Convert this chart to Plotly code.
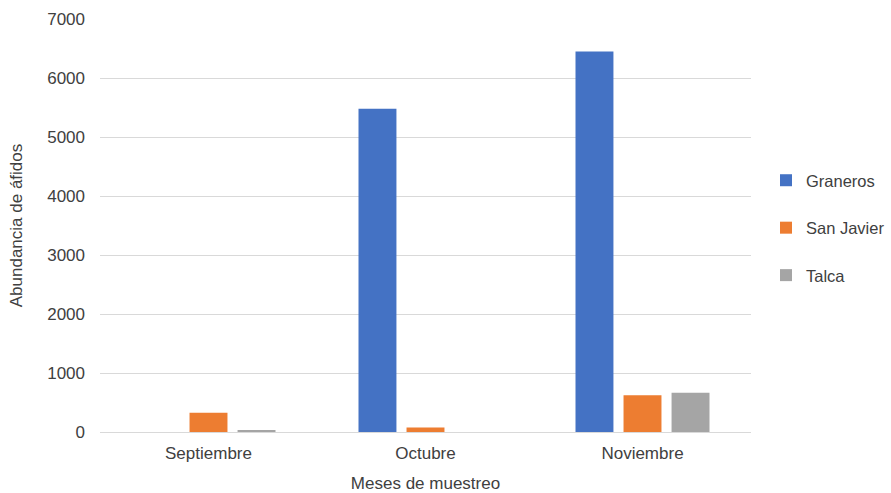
import plotly.graph_objects as go

months = ["Septiembre", "Octubre", "Noviembre"]
graneros = [0, 5480, 6450]
san_javier = [327, 75, 625]
talca = [30, 0, 665]

series = [("Graneros", graneros, "#4472C4"),
          ("San Javier", san_javier, "#ED7D31"),
          ("Talca", talca, "#A5A5A5")]

fig = go.Figure()
for name, vals, col in series:
    fig.add_trace(go.Bar(x=months, y=vals, name=name, marker_color=col,
                         marker_line_width=0, legendgroup=name))

font = "Liberation Sans, Arial, sans-serif"
fs = 17
tc = "#404040"
fig.update_layout(
    width=891, height=493,
    margin=dict(l=100, r=140, t=19, b=61),
    paper_bgcolor="white", plot_bgcolor="white",
    barmode="group", bargap=0.336, bargroupgap=0.21,
    font=dict(family=font, size=fs, color=tc),
    legend=dict(x=766 / 891, xanchor="left", xref="container",
                y=1 - 228 / 493, yanchor="middle", yref="container",
                tracegroupgap=23, font=dict(size=16.5, color=tc)),
    xaxis=dict(title=dict(text="Meses de muestreo", standoff=17,
                          font=dict(size=fs, color=tc)),
               automargin=False,
               showline=True, linecolor="#D9D9D9", linewidth=1,
               ticks="", ticklabelstandoff=6,
               tickfont=dict(size=fs, color=tc)),
    yaxis=dict(title=dict(text="Abundancia de áfidos", standoff=20,
                          font=dict(size=fs, color=tc)),
               automargin=False,
               range=[0, 7000], dtick=1000, tickformat="d",
               showgrid=True, gridcolor="#D9D9D9", gridwidth=1,
               zeroline=False, ticks="", ticklabelstandoff=14,
               tickfont=dict(size=fs, color=tc)),
)
fig.write_html("out.html")
